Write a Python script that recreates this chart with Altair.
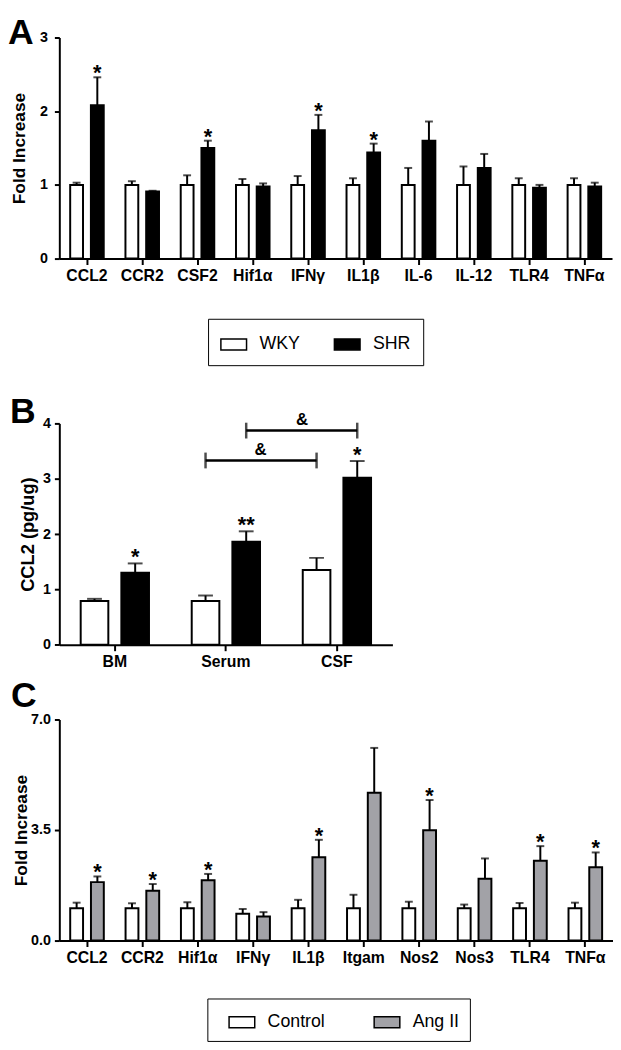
import altair as alt
import pandas as pd

SANS = "Liberation Sans"

# ---------------- Panel A data ----------------
a_genes = ["CCL2", "CCR2", "CSF2", "Hif1α", "IFNγ", "IL1β", "IL-6", "IL-12", "TLR4", "TNFα"]
a_groups = ["WKY", "SHR"]
a_colors = ["#ffffff", "#000000"]
a_wky = [1.00, 1.00, 1.00, 1.00, 1.00, 1.00, 1.00, 1.00, 1.00, 1.00]
a_wky_sem = [0.03, 0.05, 0.13, 0.08, 0.12, 0.09, 0.23, 0.25, 0.09, 0.09]
a_shr = [2.08, 0.91, 1.50, 0.98, 1.74, 1.44, 1.60, 1.23, 0.96, 0.98]
a_shr_sem = [0.38, 0.01, 0.10, 0.04, 0.21, 0.12, 0.26, 0.19, 0.04, 0.05]
a_sig = ["*", "", "*", "", "*", "*", "", "", "", ""]
a_yticks = [0, 1, 2, 3]

# ---------------- Panel B data ----------------
b_sites = ["BM", "Serum", "CSF"]
b_wky = [0.79, 0.79, 1.35]
b_wky_sem = [0.04, 0.10, 0.22]
b_shr = [1.30, 1.86, 3.02]
b_shr_sem = [0.17, 0.19, 0.30]
b_sig = ["*", "**", "*"]
b_yticks = [0, 1, 2, 3, 4]
b_br_from = ["Serum", "Serum"]
b_br_to = ["CSF", "CSF"]
b_br_group = ["WKY", "SHR"]
b_br_level = [3.33, 3.87]
b_br_text = ["&", "&"]

# ---------------- Panel C data ----------------
c_genes = ["CCL2", "CCR2", "Hif1α", "IFNγ", "IL1β", "Itgam", "Nos2", "Nos3", "TLR4", "TNFα"]
c_groups = ["Control", "Ang II"]
c_colors = ["#ffffff", "#a2a2a7"]
c_ctrl = [1.02, 1.02, 1.02, 0.85, 1.02, 1.02, 1.02, 1.02, 1.02, 1.02]
c_ctrl_sem = [0.18, 0.16, 0.19, 0.15, 0.27, 0.43, 0.21, 0.12, 0.17, 0.18]
c_ang = [1.85, 1.58, 1.91, 0.76, 2.64, 4.68, 3.49, 1.96, 2.53, 2.32]
c_ang_sem = [0.18, 0.21, 0.20, 0.14, 0.55, 1.42, 0.96, 0.64, 0.46, 0.47]
c_sig = ["*", "*", "*", "", "*", "", "*", "", "*", "*"]
c_yticks = [0, 3.5, 7]


def long_df(cats, groups, means, sems, sig):
    rows = []
    for gi, g in enumerate(groups):
        for i, c in enumerate(cats):
            rows.append({"cat": c, "group": g, "mean": means[gi][i],
                         "top": means[gi][i] + sems[gi][i],
                         "sig": sig[i] if gi == 1 else ""})
    return pd.DataFrame(rows)


def legend_def(x, y, pad, sym_off, col_pad):
    return alt.Legend(orient="none", legendX=x, legendY=y, direction="horizontal",
                      columns=2, title=None, padding=pad, strokeColor="black",
                      fillColor="white", symbolType="M-1,-0.43H1V0.43H-1Z",
                      symbolSize=676, symbolStrokeColor="black", symbolStrokeWidth=1.5,
                      symbolOffset=sym_off, labelFont=SANS, labelFontSize=18,
                      labelColor="black", labelOffset=12, columnPadding=col_pad)


def panel(df, cats, groups, colors, ymax, yticks, yfmt, ytitle, title_size, width, height,
          pin, pout, cap, star_dy, letter, letter_y, box, title_x, ylab_pad,
          legend, extra=None):
    xaxis = alt.Axis(title=None, labelAngle=0, labelFont=SANS, labelFontWeight="bold",
                     labelFontSize=16, labelPadding=3, tickSize=6, bandPosition=0.5,
                     labelOverlap=False)
    x = alt.X("cat:N", sort=cats, scale=alt.Scale(paddingInner=0, paddingOuter=0), axis=xaxis)
    xo = alt.XOffset("group:N", sort=groups,
                     scale=alt.Scale(paddingInner=pin, paddingOuter=pout))

    def Y(field):
        return alt.Y(field, scale=alt.Scale(domain=[0, ymax], nice=False, zero=True),
                     axis=alt.Axis(values=yticks, format=yfmt, title=ytitle,
                                   titleX=title_x, titleBaseline="middle",
                                   titleFont=SANS, titleFontWeight="bold",
                                   titleFontSize=title_size, labelFont=SANS,
                                   labelFontWeight="bold", labelFontSize=14.5,
                                   labelPadding=ylab_pad, tickSize=5))

    fill = alt.Fill("group:N", sort=groups,
                    scale=alt.Scale(domain=groups, range=colors), legend=legend)
    bars = alt.Chart(df).mark_bar(stroke="black", strokeWidth=2).encode(
        x=x, xOffset=xo, y=Y("mean:Q"), fill=fill)
    stems = alt.Chart(df).mark_rule(color="black", strokeWidth=2).encode(
        x=x, xOffset=xo, y=Y("mean:Q"), y2="top:Q")
    caps = alt.Chart(df).mark_tick(color="black", thickness=2, size=cap,
                                   orient="horizontal").encode(
        x=x, xOffset=xo, y=Y("top:Q"))
    stars = alt.Chart(df).mark_text(font=SANS, fontWeight="bold", fontSize=22,
                                    baseline="alphabetic", dy=star_dy,
                                    color="black").encode(
        x=x, xOffset=xo, y=Y("top:Q"), text="sig:N")
    spacer = alt.Chart(pd.DataFrame({"s": [0]})).mark_rect(opacity=0).encode(
        x=alt.value(box[0]), x2=alt.value(box[1]), y=alt.value(box[2]), y2=alt.value(box[3]))
    lab = alt.Chart(pd.DataFrame({"t": [letter]})).mark_text(
        font=SANS, fontWeight="bold", fontSize=36, align="left",
        baseline="alphabetic", color="black").encode(
        x=alt.value(box[0]), y=alt.value(letter_y), text="t:N")
    layers = [spacer, bars, stems, caps, stars]
    if extra is not None:
        layers += extra(x, xo, Y)
    layers.append(lab)
    return alt.layer(*layers).properties(width=width, height=height)


dfA = long_df(a_genes, a_groups, [a_wky, a_shr], [a_wky_sem, a_shr_sem], a_sig)
dfB = long_df(b_sites, a_groups, [b_wky, b_shr], [b_wky_sem, b_shr_sem], b_sig)
dfC = long_df(c_genes, c_groups, [c_ctrl, c_ang], [c_ctrl_sem, c_ang_sem], c_sig)

br_rows = []
for k in range(len(b_br_level)):
    for c in (b_br_from[k], b_br_to[k]):
        br_rows.append({"cat": c, "group": b_br_group[k], "level": b_br_level[k], "br": k})
dfBr = pd.DataFrame(br_rows)


def brackets(x, xo, Y):
    line = alt.Chart(dfBr).mark_line(color="black", strokeWidth=2.5).encode(
        x=x, xOffset=xo, y=Y("level:Q"), detail="br:N")
    ends = alt.Chart(dfBr).mark_tick(orient="vertical", size=16, thickness=2.5,
                                     color="black").encode(x=x, xOffset=xo, y=Y("level:Q"))
    out = [line, ends]
    for k in range(len(b_br_level)):
        d = pd.DataFrame({"cat": [b_br_to[k]], "level": [b_br_level[k]], "t": [b_br_text[k]]})
        shift = -21 if b_br_group[k] == "WKY" else 21
        out.append(alt.Chart(d).mark_text(font=SANS, fontWeight="bold", fontSize=17,
                                          baseline="middle", dx=shift, dy=-11,
                                          color="black").encode(
            x=alt.X("cat:N", sort=b_sites, bandPosition=0), y=Y("level:Q"), text="t:N"))
    return out


pA = panel(dfA, a_genes, a_groups, a_colors, 3, a_yticks, "d", "Fold Increase", 17.5, 560, 224,
           0.381, 0.524, 8, 3, "A", 6.8, [-52, 560, -22, 335], -40, 7,
           legend_def(150.7, 285, 12, 0, 31))
pB = panel(dfB, b_sites, a_groups, a_colors, 4, b_yticks, "d", "CCL2 (pg/ug)", 18.5, 337.5, 224.3,
           0.3204, 0.5255, 15, 1, "B", -0.7, [-50, 337.5, -55.7, 254.3], -32, 4,
           None, extra=brackets)
pC = panel(dfC, c_genes, c_groups, c_colors, 7, c_yticks, ".1f", "Fold Increase", 17.5, 561, 224,
           0.381, 0.524, 8, 3, "C", -13, [-49, 561, -44.3, 328.7], -38, 4,
           legend_def(150, 282.7, 10, 11, 37))

chart = alt.vconcat(pA, pB, pC, spacing=0).resolve_scale(
    fill="independent", xOffset="independent", x="independent", y="independent"
).resolve_legend(fill="independent").properties(padding=0).configure_view(
    stroke=None
).configure_axis(
    domainColor="black", domainWidth=2, tickColor="black", tickWidth=2,
    labelColor="black", titleColor="black", grid=False
)

chart.save("out.html", embed_options={"renderer": "svg", "actions": False})
